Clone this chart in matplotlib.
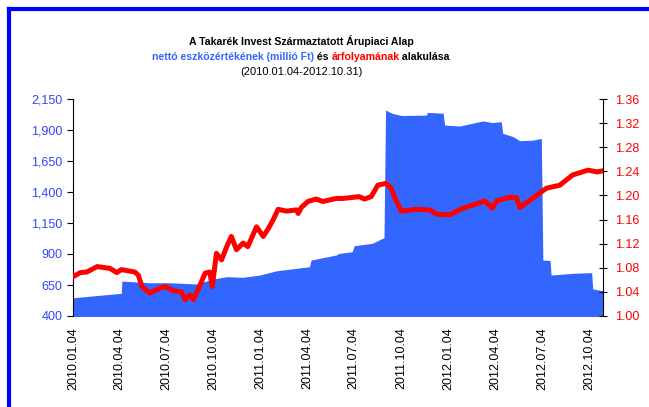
import matplotlib
matplotlib.use("Agg")
import matplotlib.pyplot as plt
import matplotlib.dates as mdates
from matplotlib.lines import Line2D
import pandas as pd

plt.rcParams['font.family'] = ['Liberation Sans', 'DejaVu Sans']

# nettó eszközérték (millió Ft)
nav_dates = ['2010-01-04', '2010-04-08', '2010-04-09', '2010-06-02', '2010-07-11',
             '2010-09-02', '2010-10-03', '2010-10-30', '2010-11-30', '2011-01-02',
             '2011-02-04', '2011-04-09', '2011-04-12', '2011-05-31', '2011-06-06',
             '2011-07-01', '2011-07-05', '2011-08-09', '2011-09-01', '2011-09-04',
             '2011-09-17', '2011-10-05', '2011-11-22', '2011-11-25', '2011-12-25',
             '2011-12-28', '2012-01-26', '2012-03-11', '2012-03-30', '2012-04-16',
             '2012-04-19', '2012-05-09', '2012-05-22', '2012-06-16', '2012-07-03',
             '2012-07-06', '2012-07-20', '2012-07-22', '2012-09-01', '2012-10-09',
             '2012-10-11', '2012-10-31']
nav_values = [547, 583, 682, 668, 668,
              658, 698, 717, 712, 730,
              765, 797, 851, 892, 905,
              918, 967, 986, 1032, 2061,
              2034, 2017, 2020, 2042, 2035,
              1940, 1932, 1973, 1960, 1967,
              1873, 1847, 1814, 1818, 1832,
              851, 848, 730, 744, 750,
              618, 604]

# árfolyam
price_dates = ['2010-01-04', '2010-01-18', '2010-01-31', '2010-02-20', '2010-03-17',
               '2010-03-30', '2010-04-08', '2010-05-04', '2010-05-11', '2010-05-18',
               '2010-06-02', '2010-06-22', '2010-07-02', '2010-07-18', '2010-08-03',
               '2010-08-10', '2010-08-19', '2010-08-26', '2010-09-04', '2010-09-18',
               '2010-09-27', '2010-10-02', '2010-10-10', '2010-10-20', '2010-10-30',
               '2010-11-08', '2010-11-18', '2010-12-01', '2010-12-10', '2010-12-27',
               '2011-01-09', '2011-01-19', '2011-01-28', '2011-02-07', '2011-02-23',
               '2011-03-15', '2011-03-18', '2011-03-24', '2011-04-06', '2011-04-22',
               '2011-05-05', '2011-05-31', '2011-06-13', '2011-07-15', '2011-07-25',
               '2011-08-07', '2011-08-20', '2011-09-05', '2011-09-15', '2011-09-24',
               '2011-10-05', '2011-11-03', '2011-11-29', '2011-12-12', '2012-01-07',
               '2012-02-02', '2012-02-28', '2012-03-15', '2012-03-30', '2012-04-07',
               '2012-05-03', '2012-05-16', '2012-05-22', '2012-06-11', '2012-06-30',
               '2012-07-13', '2012-08-08', '2012-09-02', '2012-10-02', '2012-10-19',
               '2012-10-31']
price_values = [1.065, 1.072, 1.073, 1.082, 1.079,
                1.072, 1.077, 1.073, 1.068, 1.049,
                1.038, 1.046, 1.049, 1.042, 1.040,
                1.027, 1.035, 1.027, 1.043, 1.071,
                1.073, 1.049, 1.104, 1.093, 1.115,
                1.132, 1.110, 1.121, 1.115, 1.148,
                1.132, 1.145, 1.159, 1.177, 1.174,
                1.176, 1.170, 1.180, 1.190, 1.194,
                1.190, 1.195, 1.195, 1.198, 1.194,
                1.198, 1.217, 1.220, 1.212, 1.192,
                1.174, 1.177, 1.176, 1.169, 1.168,
                1.179, 1.186, 1.191, 1.179, 1.191,
                1.197, 1.196, 1.180, 1.192, 1.204,
                1.212, 1.217, 1.234, 1.242, 1.239,
                1.241]

tick_dates = ['2010-01-04', '2010-04-04', '2010-07-04', '2010-10-04',
              '2011-01-04', '2011-04-04', '2011-07-04', '2011-10-04',
              '2012-01-04', '2012-04-04', '2012-07-04', '2012-10-04']
left_ticks = [400, 650, 900, 1150, 1400, 1650, 1900, 2150]
right_ticks = [1.00, 1.04, 1.08, 1.12, 1.16, 1.20, 1.24, 1.28, 1.32, 1.36]

nd = pd.to_datetime(nav_dates)
pdt = pd.to_datetime(price_dates)
td = pd.to_datetime(tick_dates)

fill_blue = '#3366FF'
label_blue = '#3344FF'
red = '#FF0000'

fig = plt.figure(figsize=(6.49, 4.07), dpi=100)
ax = fig.add_axes([73/649, 1-316/407, 530/649, 217/407])
ax.fill_between(nd, 0, nav_values, color=fill_blue, lw=0)
ax.set_ylim(400, 2150)
ax.set_xlim(pd.Timestamp('2010-01-04'), pd.Timestamp('2012-10-31'))
ax.set_yticks(left_ticks)
ax.set_yticklabels([f'{v:,}' for v in left_ticks], color=label_blue, fontsize=9)
ax.tick_params(axis='y', direction='out', length=4, width=0.8)
ax.set_xticks(td)
ax.set_xticklabels([d.strftime('%Y.%m.%d') for d in td], rotation=90, fontsize=9)
ax.tick_params(axis='x', length=0, pad=8)
for s in ['top', 'right', 'bottom']:
    ax.spines[s].set_visible(False)

ax2 = ax.twinx()
ax2.plot(pdt, price_values, color=red, lw=3.6, solid_joinstyle='round')
ax2.set_ylim(1.00, 1.36)
ax2.set_yticks(right_ticks)
ax2.set_yticklabels([f'{v:.2f}' for v in right_ticks], color=red, fontsize=9)
ax2.tick_params(axis='y', direction='inout', length=6, width=0.8, pad=6)
for s in ['top', 'left', 'bottom']:
    ax2.spines[s].set_visible(False)

# cím
cx = 301/649
fig.text(cx, 1-41/407, 'A Takarék Invest Származtatott Árupiaci Alap',
         ha='center', va='center', fontsize=7.6, fontweight='bold')
fig.text(cx, 1-72/407, '(2010.01.04-2012.10.31)', ha='center', va='center', fontsize=8)

pieces = [('nettó eszközértékének (millió Ft)', fill_blue),
          (' és ', 'black'), ('árfolyamának', red), (' alakulása', 'black')]
texts = [fig.text(0, 1-57/407, s, color=c, ha='left', va='center',
                  fontsize=7.6, fontweight='bold') for s, c in pieces]
fig.canvas.draw()
r = fig.canvas.get_renderer()
widths = [t.get_window_extent(r).width / fig.bbox.width for t in texts]
x = cx - sum(widths) / 2
for t, w in zip(texts, widths):
    t.set_x(x)
    x += w

# kék keret
fig.add_artist(Line2D([9/649, 1], [1-9/407, 1-9/407], color='#0000FF', lw=3))
fig.add_artist(Line2D([9/649, 9/649], [0, 1-9/407], color='#0000FF', lw=3))

fig.savefig('out.png', dpi=100)
